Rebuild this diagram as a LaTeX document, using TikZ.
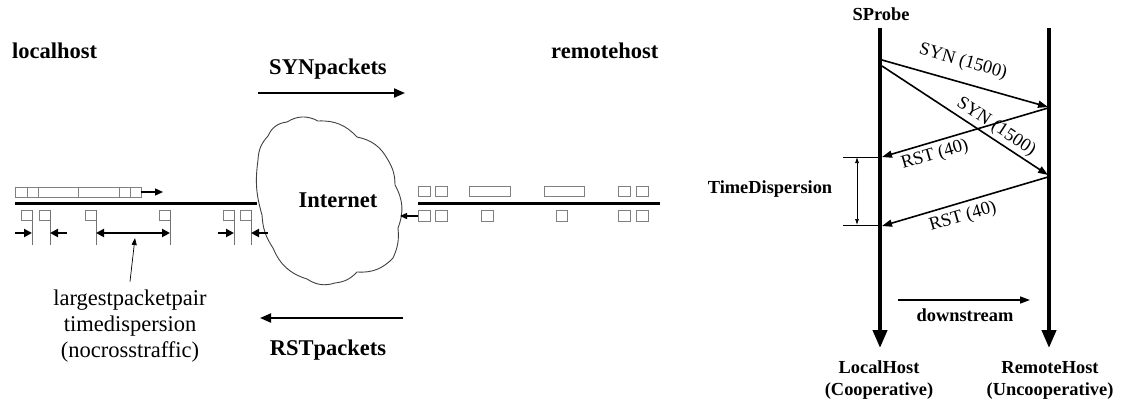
\documentclass[tikz,border=0pt]{standalone}
\usepackage{fontspec}
\setmainfont{Liberation Serif}
\usetikzlibrary{arrows.meta}
\begin{document}
\begin{tikzpicture}[x=1pt,y=-1pt,
  pkt/.style={draw=black!50, line width=1pt},
  tail/.style={draw=black!55, line width=0.8pt},
  wire/.style={line width=3.5pt},
  gaparrow/.style={line width=2.4pt, -{Triangle[length=8pt,width=8pt]}},
  bigarrow/.style={line width=2pt, -{Triangle[length=11pt,width=9pt]}},
  bigB/.style={font=\fontsize{22.5}{26}\selectfont\bfseries, inner sep=0pt},
  bigR/.style={font=\fontsize{22.5}{26}\selectfont, inner sep=0pt, align=center},
  smB/.style={font=\fontsize{18.4}{22}\selectfont\bfseries, inner sep=0pt, align=center},
  smR/.style={font=\fontsize{18.4}{22}\selectfont, inner sep=0pt},
  hostline/.style={line width=4pt, -{Triangle[length=18pt,width=14pt]}},
  msg/.style={line width=1.6pt, -{Triangle[length=10pt,width=7pt]}},
  thin/.style={line width=0.7pt}
]
\useasboundingbox (0,0) rectangle (1123,405);

% ---------- left diagram ----------
\node[bigB, anchor=base west] (lh) at (12,58) {localhost};
\node[bigB, anchor=base west] (rh) at (551,58) {remotehost};
\node[bigB, anchor=base] (synp) at (328,74) {SYNpackets};
\node[bigB, anchor=base] (rstp) at (328,355) {RSTpackets};

\coordinate (synA) at (258,93); \coordinate (synB) at (405,93);
\draw[bigarrow] (synA) -- (synB);
\coordinate (rstA) at (403,318); \coordinate (rstB) at (260,318);
\draw[bigarrow] (rstA) -- (rstB);

% cloud
\draw[draw=black!75, line width=0.9pt, fill=white]
  (287,122) to[bend left=30] (318,121) to[bend left=25] (357,137)
  to[bend left=25] (388,160) to[bend left=15] (395,185)
  to[bend left=25] (398,228) to[bend left=15] (393,258)
  to[bend left=25] (357,272) to[bend left=20] (335,283)
  to[bend left=25] (307,279) to[bend left=25] (273,248)
  to[bend left=15] (262,215) to[bend left=12] (258,160)
  to[bend left=20] (268,136) to[bend left=30] (287,122) -- cycle;
\node[bigB, anchor=base] (inet) at (338,207) {Internet};

% left wire and packets
\coordinate (lw1) at (15,203.5); \coordinate (lw2) at (257,203.5);
\draw[wire] (lw1) -- (lw2);
\draw[pkt] (15,187) rectangle (141,197);
\foreach \d in {27,38,78,119,130} \draw[pkt] (\d,187) -- (\d,197);
\coordinate (la1) at (141,192); \coordinate (la2) at (163,192);
\draw[line width=1.3pt, -{Triangle[length=8pt,width=7pt]}] (la1) -- (la2);
\foreach \l in {21,39,85,159,223,240} {
  \draw[pkt] (\l,210) rectangle ++(11,10);
  \draw[tail] (\l+11,210) -- (\l+11,245);
}
\draw[gaparrow] (15,233) -- (32,233);
\draw[gaparrow] (67,233) -- (50,233);
\draw[line width=2.4pt, {Triangle[length=8pt,width=8pt]}-{Triangle[length=8pt,width=8pt]}] (96,233) -- (170,233);
\draw[gaparrow] (218,233) -- (234,233);
\draw[gaparrow] (268,233) -- (251,233);

\node[bigR] (note) at (130,326) {largestpacketpair\\timedispersion\\(nocrosstraffic)};
\coordinate (notetip) at (135,238);
\draw[thin, -{Triangle[length=7pt,width=5pt]}] (note.north) ++(0,-8) -- (notetip);

% right wire and packets
\coordinate (rw1) at (418,203.5); \coordinate (rw2) at (660,203.5);
\draw[wire] (rw1) -- (rw2);
\foreach \a/\b in {418/430,435/447,469/510,544/584,618/630,636/648}
  \draw[pkt] (\a,186) rectangle (\b,196);
\foreach \a/\b in {418/430,435/447,481/493,556/567,618/630,636/648}
  \draw[pkt] (\a,210) rectangle (\b,221);
\coordinate (ra1) at (418,216); \coordinate (ra2) at (400,216);
\draw[line width=1.3pt, -{Triangle[length=7pt,width=6pt]}] (ra1) -- (ra2);

% ---------- right diagram ----------
\node[smB, anchor=base] (sprobe) at (881,20) {SProbe};
\coordinate (Lt) at (880,28); \coordinate (Lb) at (880,348);
\coordinate (Rt) at (1049,28); \coordinate (Rb) at (1049,348);
\draw[hostline] (Lt) -- (Lb);
\draw[hostline] (Rt) -- (Rb);

\coordinate (s1a) at (882,60);  \coordinate (s1b) at (1048,107);
\coordinate (s2a) at (882,66);  \coordinate (s2b) at (1048,175);
\coordinate (r1a) at (1048,108); \coordinate (r1b) at (882,157);
\coordinate (r2a) at (1048,177); \coordinate (r2b) at (882,226);
\draw[msg] (s1a) -- (s1b);
\draw[msg] (s2a) -- (s2b);
\draw[msg] (r1a) -- (r1b);
\draw[msg] (r2a) -- (r2b);
\node[smR, rotate=-15.8] (l1) at (963,62) {SYN (1500)};
\node[smR, rotate=-33.3] (l2) at (996,127) {SYN (1500)};
\node[smR, rotate=16.4] (l3) at (935,155) {RST (40)};
\node[smR, rotate=16.4] (l4) at (963,217) {RST (40)};

\coordinate (td1a) at (843,157); \coordinate (td1b) at (880,157);
\coordinate (td2a) at (843,225); \coordinate (td2b) at (880,225);
\draw[thin] (td1a) -- (td1b);
\draw[thin] (td2a) -- (td2b);
\coordinate (tdu) at (857,157); \coordinate (tdd) at (857,225);
\draw[thin, {Latex[length=6pt,width=4pt]}-{Latex[length=6pt,width=4pt]}] (tdu) -- (tdd);
\node[smB, anchor=base] (tdl) at (770,193) {TimeDispersion};

\coordinate (dsa) at (898,300); \coordinate (dsb) at (1030,300);
\draw[line width=1.5pt, -{Triangle[length=10pt,width=7pt]}] (dsa) -- (dsb);
\node[smB, anchor=base] (dsl) at (965,321) {downstream};

\node[smB] (lhost) at (879,380) {LocalHost\\(Cooperative)};
\node[smB] (rhost) at (1050,380) {RemoteHost\\(Uncooperative)};
\end{tikzpicture}
\end{document}
